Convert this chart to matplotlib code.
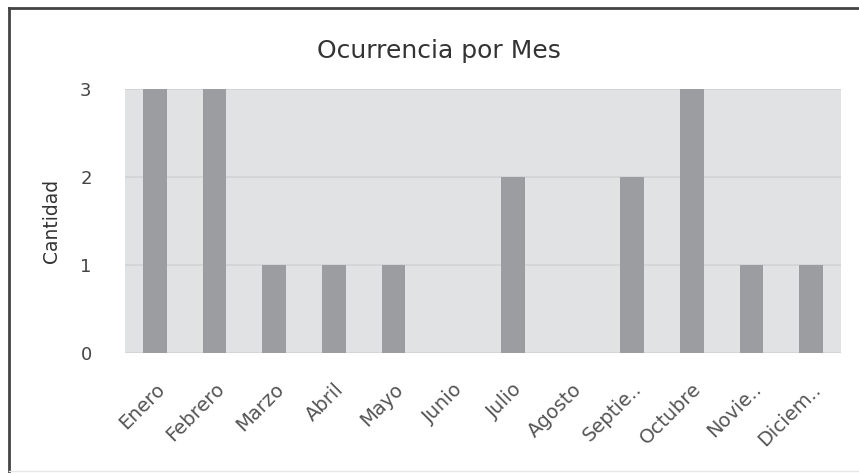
import matplotlib.pyplot as plt
from matplotlib.lines import Line2D

# data
meses = ["Enero", "Febrero", "Marzo", "Abril", "Mayo", "Junio",
         "Julio", "Agosto", "Septie..", "Octubre", "Novie..", "Diciem.."]
cantidad = [3, 3, 1, 1, 1, 0, 2, 0, 2, 3, 1, 1]
yticks = [0, 1, 2, 3]

plt.rcParams['font.family'] = ['DejaVu Sans']

fig = plt.figure(figsize=(8.59, 4.73), dpi=100)
ax = fig.add_axes([0.1455, 0.2537, 0.8335, 0.5581])
ax.set_facecolor("#e1e2e4")

pos = list(range(len(meses)))
ax.bar(pos, cantidad, width=0.4, color="#9c9da0", zorder=3)

ax.set_xlim(-0.5, len(meses) - 0.5)
ax.set_ylim(0, 3)
ax.set_yticks(yticks)
ax.yaxis.grid(True, color="#d2d3d5", linewidth=1.2, zorder=1)
ax.set_axisbelow(True)
for s in ax.spines.values():
    s.set_visible(False)

ax.set_xticks(pos)
ax.set_xticklabels(meses, rotation=45, ha="right", rotation_mode="anchor",
                   fontsize=14, color="#555555")
ax.tick_params(axis="x", length=0, pad=19)
ax.tick_params(axis="y", length=0, pad=24, labelsize=13, labelcolor="#444444")

ax.set_ylabel("Cantidad", fontsize=13.5, color="#333333", labelpad=14)
# title sits centred on the figure, not on the axes
ax.set_title("Ocurrencia por Mes", fontsize=18, color="#333333", pad=22, x=0.4385)

# outer frame
fig.add_artist(Line2D([0.0105, 0.0105], [0.0, 0.983], color="#444444", lw=2, transform=fig.transFigure))
fig.add_artist(Line2D([0.0105, 1.0], [0.983, 0.983], color="#444444", lw=2, transform=fig.transFigure))
fig.add_artist(Line2D([0.0105, 1.0], [0.004, 0.004], color="#e6e6e6", lw=1, transform=fig.transFigure))

fig.savefig("out.png", dpi=100)
